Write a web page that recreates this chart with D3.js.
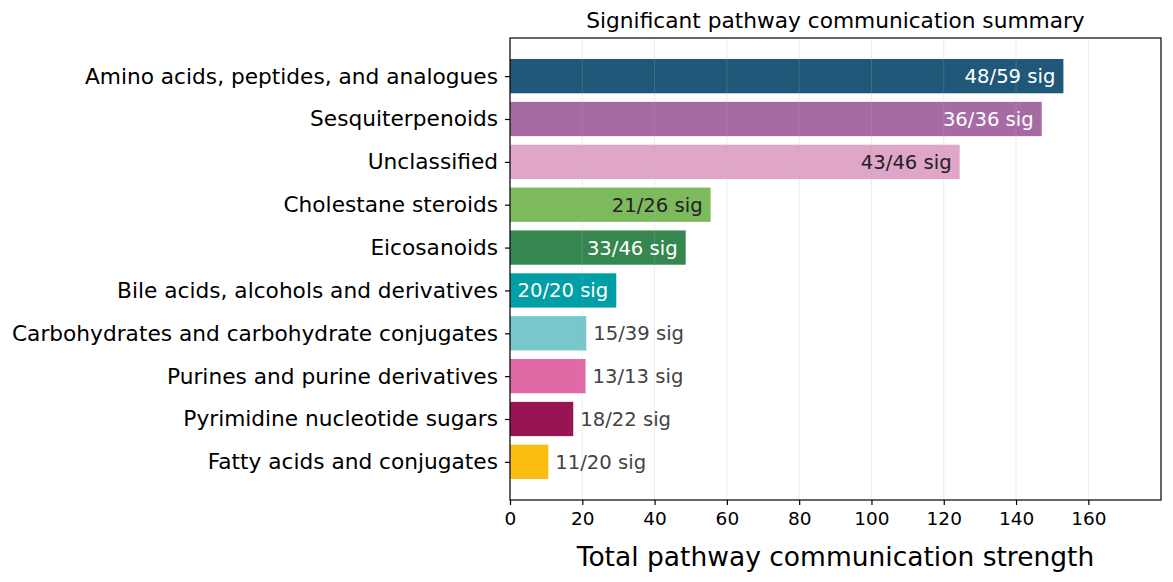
<!DOCTYPE html>
<html><head><meta charset="utf-8">
<script src="https://cdn.jsdelivr.net/npm/d3@7"></script>
<style>body{margin:0;background:#fff;}svg{display:block;font-family:"DejaVu Sans",sans-serif;}</style>
</head><body><svg id="c" width="1173" height="582"></svg>
<script>
const categories = ["Amino acids, peptides, and analogues","Sesquiterpenoids","Unclassified","Cholestane steroids","Eicosanoids","Bile acids, alcohols and derivatives","Carbohydrates and carbohydrate conjugates","Purines and purine derivatives","Pyrimidine nucleotide sugars","Fatty acids and conjugates"];
const strength = [153.1, 147.1, 124.4, 55.5, 48.6, 29.4, 21.1, 20.9, 17.5, 10.6];
const sigCount = [48, 36, 43, 21, 33, 20, 15, 13, 18, 11];
const totalCount = [59, 36, 46, 26, 46, 20, 39, 13, 22, 20];
const colors = ["#20587a","#a66ba4","#e0a6c8","#7dba5e","#35874f","#009ea5","#76c8cb","#e06aa6","#961552","#fdbd10"];
const labelColors = ["#ffffff","#ffffff","#222222","#222222","#ffffff","#ffffff","#444444","#444444","#444444","#444444"];
const xTicks = [0,20,40,60,80,100,120,140,160];
const title = "Significant pathway communication summary";
const xTitle = "Total pathway communication strength";

const svg = d3.select("#c");
const L=510, R=1161, T=38, B=500;
const x = d3.scaleLinear().domain([0,180.1]).range([L,R]);
const y = d3.scaleLinear().domain([-0.89, categories.length-1+0.89]).range([T,B]);
const data = categories.map((c,i)=>({c,i,v:strength[i],s:sigCount[i],t:totalCount[i],col:colors[i],lc:labelColors[i]}));

svg.append("g").selectAll("rect").data(data).join("rect")
  .attr("x",x(0)).attr("y",d=>y(d.i-0.4)).attr("width",d=>x(d.v)-x(0)).attr("height",d=>y(d.i+0.4)-y(d.i-0.4))
  .attr("fill",d=>d.col);

// grid on top
svg.append("g").selectAll("line").data(xTicks).join("line")
  .attr("x1",d=>x(d)).attr("x2",d=>x(d)).attr("y1",T).attr("y2",B)
  .attr("stroke","#b0b0b0").attr("stroke-opacity",0.3).attr("stroke-width",0.8);

// labels
svg.append("g").selectAll("text").data(data).join("text")
  .attr("x",d=> d.i<6 ? x(d.v)-8 : x(d.v)+7)
  .attr("y",d=>y(d.i)).attr("dy","0.36em")
  .attr("text-anchor",d=> d.i<6 ? "end":"start")
  .attr("font-size",19.6).attr("fill",d=>d.lc)
  .text(d=>`${d.s}/${d.t} sig`);

// frame
svg.append("rect").attr("x",L).attr("y",T).attr("width",R-L).attr("height",B-T).attr("fill","none").attr("stroke","#000").attr("stroke-width",1.2);

// x axis
const xa = svg.append("g").attr("transform",`translate(0,${B})`)
  .call(d3.axisBottom(x).tickValues(xTicks).tickSize(5).tickPadding(7).tickFormat(d3.format("d")));
xa.select(".domain").remove();
xa.selectAll("text").attr("font-size",18.5).attr("fill","#000").attr("font-family","DejaVu Sans");
xa.selectAll("line").attr("stroke","#000").attr("stroke-width",1.2);

// y axis
const ya = svg.append("g").attr("transform",`translate(${L},0)`)
  .call(d3.axisLeft(y).tickValues(d3.range(categories.length)).tickSize(5).tickPadding(7).tickFormat(i=>categories[i]));
ya.select(".domain").remove();
ya.selectAll("text").attr("font-size",21.7).attr("fill","#000").attr("font-family","DejaVu Sans");
ya.selectAll("line").attr("stroke","#000").attr("stroke-width",1.2);

svg.append("text").attr("x",(L+R)/2).attr("y",28).attr("text-anchor","middle").attr("font-size",21.7).text(title);
svg.append("text").attr("x",(L+R)/2).attr("y",566).attr("text-anchor","middle").attr("font-size",26.5).text(xTitle);
</script></body></html>
